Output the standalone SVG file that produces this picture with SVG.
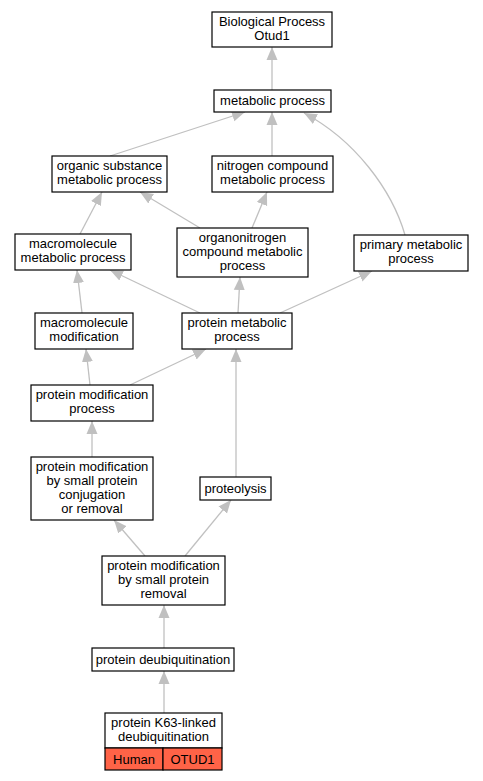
<svg xmlns="http://www.w3.org/2000/svg" width="483" height="781" viewBox="0 0 483 781">
<style>
.n rect{fill:#fff;stroke:#000;stroke-width:1.2}
text{font-family:"Liberation Sans",Arial,sans-serif;font-size:13px;text-anchor:middle;fill:#000}
.e path{fill:none;stroke:#c0c0c0;stroke-width:1.3;marker-end:url(#ah)}
.hl{fill:#ff6347 !important}
</style>
<defs>
<marker id="ah" markerUnits="userSpaceOnUse" markerWidth="14" markerHeight="12" refX="13" refY="6" orient="auto" viewBox="0 0 14 12">
<path d="M0,0.5 L13,6 L0,11.5 z" fill="#c0c0c0"/>
</marker>
</defs>
<rect width="483" height="781" fill="#fff"/>
<g id="edges" class="e">
<path d="M272,90 L272,47"/>
<path d="M110,156 L245,112"/>
<path d="M272,156 L272,112"/>
<path d="M405,235 C392,190 355,140 304,113"/>
<path d="M80,234 L102,192"/>
<path d="M200,228 L140,192"/>
<path d="M252,228 L267,192"/>
<path d="M200,313 L110,270"/>
<path d="M238,313 L240,277"/>
<path d="M280,313 L372,271"/>
<path d="M82,313 L77,270"/>
<path d="M90,385 L86,349"/>
<path d="M130,385 L206,349"/>
<path d="M92,457 L92,421"/>
<path d="M236,477 L236,349"/>
<path d="M145,556 L114,520"/>
<path d="M185,556 L231,500"/>
<path d="M164,648 L164,605"/>
<path d="M164,713 L164,671"/>
</g>
<g id="n1" class="n"><rect x="212" y="12" width="120" height="35"/><text x="272" y="25.5">Biological Process</text><text x="272" y="39.5">Otud1</text></g>
<g id="n2" class="n"><rect x="214" y="90" width="117" height="22"/><text x="272.5" y="105">metabolic process</text></g>
<g id="n3" class="n"><rect x="52" y="156" width="115" height="36"/><text x="109.5" y="170">organic substance</text><text x="109.5" y="184">metabolic process</text></g>
<g id="n4" class="n"><rect x="212" y="156" width="121" height="36"/><text x="272.5" y="170">nitrogen compound</text><text x="272.5" y="184">metabolic process</text></g>
<g id="n5" class="n"><rect x="15" y="234" width="116" height="36"/><text x="73" y="248">macromolecule</text><text x="73" y="262">metabolic process</text></g>
<g id="n6" class="n"><rect x="177" y="228" width="131" height="49"/><text x="242.5" y="241.5">organonitrogen</text><text x="242.5" y="255.5">compound metabolic</text><text x="242.5" y="269.5">process</text></g>
<g id="n7" class="n"><rect x="354" y="235" width="114" height="36"/><text x="411" y="249">primary metabolic</text><text x="411" y="263">process</text></g>
<g id="n8" class="n"><rect x="35" y="313" width="98" height="36"/><text x="84" y="327">macromolecule</text><text x="84" y="341">modification</text></g>
<g id="n9" class="n"><rect x="182" y="313" width="110" height="36"/><text x="237" y="327">protein metabolic</text><text x="237" y="341">process</text></g>
<g id="n10" class="n"><rect x="31" y="385" width="122" height="36"/><text x="92" y="399">protein modification</text><text x="92" y="413">process</text></g>
<g id="n11" class="n"><rect x="31" y="457" width="122" height="63"/><text x="92" y="470.5">protein modification</text><text x="92" y="484.5">by small protein</text><text x="92" y="498.5">conjugation</text><text x="92" y="512.5">or removal</text></g>
<g id="n12" class="n"><rect x="200" y="477" width="71" height="23"/><text x="235.5" y="492.5">proteolysis</text></g>
<g id="n13" class="n"><rect x="102" y="556" width="123" height="49"/><text x="163.5" y="569.5">protein modification</text><text x="163.5" y="583.5">by small protein</text><text x="163.5" y="597.5">removal</text></g>
<g id="n14" class="n"><rect x="92" y="648" width="142" height="23"/><text x="163" y="663.5">protein deubiquitination</text></g>
<g id="n15" class="n"><rect x="105" y="713" width="117" height="35"/><text x="163.5" y="726.5">protein K63-linked</text><text x="163.5" y="740.5">deubiquitination</text><rect class="hl" x="105" y="748" width="58" height="22"/><rect class="hl" x="163" y="748" width="59" height="22"/><text x="134" y="763.5">Human</text><text x="192.5" y="763.5">OTUD1</text></g>
</svg>
